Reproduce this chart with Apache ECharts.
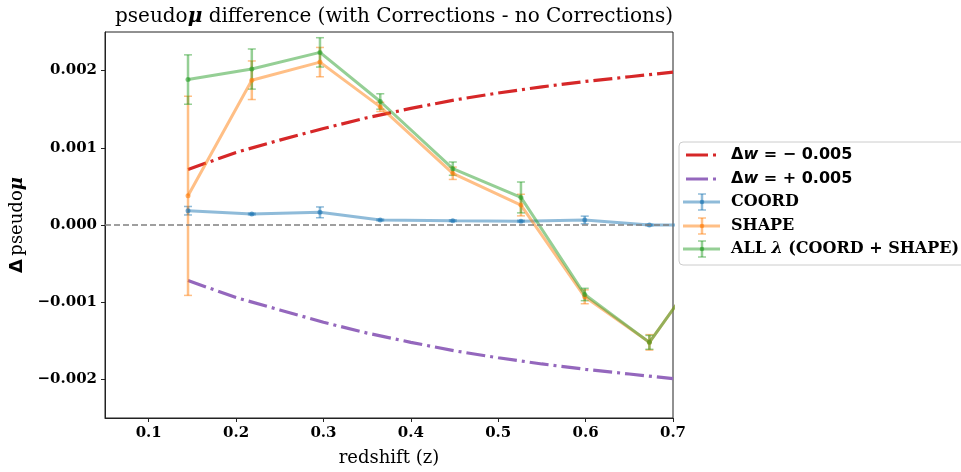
<!DOCTYPE html>
<html>
<head>
<meta charset="utf-8">
<script src="https://cdn.jsdelivr.net/npm/echarts@6/dist/echarts.min.js"></script>
<style>html,body{margin:0;padding:0;background:#fff;}#c{width:961px;height:472px;}</style>
</head>
<body>
<div id="c"></div>
<script>
// ---- data ----
const zBins = [0.145, 0.218, 0.296, 0.365, 0.448, 0.526, 0.599, 0.673, 0.75];
const coordVals = [0.000185, 0.000142, 0.000164, 0.000065, 0.000056, 0.00005, 0.000065, 0.0, 0.0];
const coordErr  = [0.000055, 0.00001, 0.00007, 0.00001, 0.00001, 0.00001, 0.00005, 0.00001, 0.00001];
const shapeVals = [0.000378, 0.001875, 0.00211, 0.00153, 0.00067, 0.000258, -0.00093, -0.00152, -0.0003];
const shapeErr  = [0.00129, 0.00025, 0.00019, 0.00006, 0.00008, 0.00014, 0.00009, 0.0001, 0.0001];
const allVals   = [0.001884, 0.00202, 0.002236, 0.0016, 0.00073, 0.000357, -0.0009, -0.00152, -0.0003];
const allErr    = [0.00032, 0.00026, 0.00019, 0.0001, 0.000086, 0.0002, 0.00008, 0.00009, 0.0001];
const zCurve    = [0.145, 0.2, 0.25, 0.3, 0.35, 0.4, 0.45, 0.5, 0.55, 0.6, 0.65, 0.7];
const wMinusVals = [0.00072, 0.00094, 0.00110, 0.00125, 0.00139, 0.00151, 0.00162, 0.00171, 0.00179, 0.00186, 0.00192, 0.00198];
const wPlusVals  = [-0.00072, -0.00094, -0.00110, -0.00126, -0.00140, -0.00152, -0.00163, -0.00172, -0.00180, -0.00187, -0.00193, -0.00199];
const xTicks = [0.1, 0.2, 0.3, 0.4, 0.5, 0.6, 0.7];
const yTicks = [-0.002, -0.001, 0.0, 0.001, 0.002];
const seriesNames = ['COORD', 'SHAPE', 'ALL λ (COORD + SHAPE)'];

const C = {blue:'#1f77b4', orange:'#ff7f0e', green:'#2ca02c', red:'#d62728', purple:'#9467bd'};
const SERIF = "'DejaVu Serif', serif";
const SANS = "'DejaVu Sans', sans-serif";

function pairs(xs, ys){ return xs.map((x,i)=>[x, ys[i]]); }
function errData(xs, ys, es){ return xs.map((x,i)=>[x, ys[i]-es[i], ys[i]+es[i]]); }

function errSeries(name, xs, ys, es, color){
  return {
    type:'custom', name: name, clip:true, z: 3,
    data: errData(xs, ys, es),
    renderItem: function(params, api){
      const x = api.value(0), lo = api.value(1), hi = api.value(2);
      const p1 = api.coord([x, hi]), p2 = api.coord([x, lo]);
      const cw = 4;
      const st = {stroke: color, lineWidth: 2.5, opacity: 0.5};
      const cst = {stroke: color, lineWidth: 1.5, opacity: 0.5};
      return {type:'group', children:[
        {type:'line', shape:{x1:p1[0], y1:p1[1], x2:p2[0], y2:p2[1]}, style: st},
        {type:'line', shape:{x1:p1[0]-cw, y1:p1[1], x2:p1[0]+cw, y2:p1[1]}, style: cst},
        {type:'line', shape:{x1:p2[0]-cw, y1:p2[1], x2:p2[0]+cw, y2:p2[1]}, style: cst}
      ]};
    }
  };
}
function lineSeries(name, xs, ys, color){
  return {
    type:'line', name:name, data: pairs(xs, ys), clip:true, z: 3,
    symbol:'circle', symbolSize:5, showSymbol:true,
    lineStyle:{color:color, width:3, opacity:0.5},
    itemStyle:{color:color, opacity:0.6},
    animation:false
  };
}

const chart = echarts.init(document.getElementById('c'), null, {renderer:'canvas'});

const dashDot = [19, 5, 3, 5];

const legendRows = [155, 179, 202, 226, 249];
const lgX = 731;
function lgLineIcon(y, color){
  return [
    {type:'line', shape:{x1:686, y1:y, x2:708, y2:y}, style:{stroke:color, lineWidth:3}},
    {type:'line', shape:{x1:713, y1:y, x2:716, y2:y}, style:{stroke:color, lineWidth:3}}
  ];
}
function lgErrIcon(y, color){
  return [
    {type:'line', shape:{x1:683, y1:y, x2:720, y2:y}, style:{stroke:color, lineWidth:3, opacity:0.5}},
    {type:'line', shape:{x1:702, y1:y-8, x2:702, y2:y+8}, style:{stroke:color, lineWidth:2.5, opacity:0.5}},
    {type:'line', shape:{x1:698, y1:y-8, x2:706, y2:y-8}, style:{stroke:color, lineWidth:1.5, opacity:0.5}},
    {type:'line', shape:{x1:698, y1:y+8, x2:706, y2:y+8}, style:{stroke:color, lineWidth:1.5, opacity:0.5}},
    {type:'circle', shape:{cx:702, cy:y, r:2.3}, style:{fill:color, opacity:0.6}}
  ];
}
const LF = 16;
const wRich = {
  s:{fontFamily:SANS, fontWeight:'bold', fontSize:LF, fill:'#000'},
  i:{fontFamily:SANS, fontWeight:'bold', fontStyle:'italic', fontSize:LF, fill:'#000'}
};
const sRich = {
  t:{fontFamily:SERIF, fontWeight:'bold', fontSize:LF, fill:'#000'},
  l:{fontFamily:SERIF, fontWeight:'bold', fontStyle:'italic', fontSize:LF, fill:'#000'}
};
const graphics = [
  {type:'rect', shape:{x:679, y:142, width:300, height:123, r:4}, style:{fill:'rgba(255,255,255,0.8)', stroke:'#cccccc', lineWidth:1}, z:10},
  ...lgLineIcon(legendRows[0], C.red),
  ...lgLineIcon(legendRows[1], C.purple),
  ...lgErrIcon(legendRows[2], C.blue),
  ...lgErrIcon(legendRows[3], C.orange),
  ...lgErrIcon(legendRows[4], C.green),
  {type:'text', x:lgX, y:legendRows[0], style:{text:'{s|Δ}{i|w}{s| = − 0.005}', rich:wRich, verticalAlign:'middle'}},
  {type:'text', x:lgX, y:legendRows[1], style:{text:'{s|Δ}{i|w}{s| = + 0.005}', rich:wRich, verticalAlign:'middle'}},
  {type:'text', x:lgX, y:legendRows[2], style:{text:'{t|' + seriesNames[0] + '}', rich:sRich, verticalAlign:'middle'}},
  {type:'text', x:lgX, y:legendRows[3], style:{text:'{t|' + seriesNames[1] + '}', rich:sRich, verticalAlign:'middle'}},
  {type:'text', x:lgX, y:legendRows[4], style:{text:'{t|ALL }{l|λ}{t| (COORD + SHAPE)}', rich:sRich, verticalAlign:'middle'}}
].map((g,i) => Object.assign({z: i === 0 ? 10 : 11}, g));

const option = {
  animation:false,
  backgroundColor:'#fff',
  title:{
    text:'{a|pseudo}{b|μ}{a| difference (with Corrections - no Corrections)}',
    left: 389, top: 2, textAlign:'center',
    textStyle:{
      fontWeight:'normal',
      rich:{
        a:{fontFamily:SERIF, fontSize:20, fontWeight:'normal', color:'#000'},
        b:{fontFamily:SERIF, fontSize:20, fontWeight:'bold', fontStyle:'italic', color:'#000'}
      }
    }
  },
  grid:{left:105, right:288, top:32, bottom:52, show:true, borderColor:'#222', borderWidth:1, backgroundColor:'transparent'},
  xAxis:{
    type:'value', min:0.05, max:0.7,
    name:'redshift (z)', nameLocation:'middle', nameGap:31,
    nameTextStyle:{fontFamily:SERIF, fontSize:18, color:'#000'},
    axisLine:{show:true, onZero:false, lineStyle:{color:'#222', width:1}},
    axisTick:{show:true, length:4, customValues:xTicks, lineStyle:{color:'#222'}},
    axisLabel:{customValues:xTicks, fontFamily:SERIF, fontWeight:'bold', fontSize:15, color:'#000', margin:8,
      formatter:(v)=>v.toFixed(1)},
    splitLine:{show:false}
  },
  yAxis:{
    type:'value', min:-0.0025, max:0.0025,
    name:'{d|Δ} {p|pseudo}{m|μ}', nameLocation:'middle', nameGap:76, nameRotate:90,
    nameTextStyle:{
      rich:{
        d:{fontFamily:SANS, fontWeight:'bold', fontSize:18, color:'#000'},
        p:{fontFamily:SERIF, fontSize:18, color:'#000'},
        m:{fontFamily:SERIF, fontWeight:'bold', fontStyle:'italic', fontSize:18, color:'#000'}
      }
    },
    axisLine:{show:true, onZero:false, lineStyle:{color:'#222', width:1}},
    axisTick:{show:true, length:4, customValues:yTicks, lineStyle:{color:'#222'}},
    axisLabel:{customValues:yTicks, fontFamily:SERIF, fontWeight:'bold', fontSize:15, color:'#000', margin:8,
      formatter:(v)=>{ const s = Math.abs(v).toFixed(3); return (v < -1e-9 ? '−' : '') + s; }},
    splitLine:{show:false}
  },
  graphic: graphics,
  series:[
    {type:'line', name:'zero', data:[], silent:true,
     markLine:{silent:true, symbol:'none', label:{show:false},
       lineStyle:{color:'#808080', type:[6,3], width:1.5}, data:[{yAxis:0}]}, z:1},
    {type:'line', name:'Δw = −0.005', data:pairs(zCurve, wMinusVals), showSymbol:false, symbol:'none', clip:true, z:2,
     lineStyle:{color:C.red, width:3.2, type:dashDot}},
    {type:'line', name:'Δw = +0.005', data:pairs(zCurve, wPlusVals), showSymbol:false, symbol:'none', clip:true, z:2,
     lineStyle:{color:C.purple, width:3.2, type:dashDot}},
    lineSeries(seriesNames[0], zBins, coordVals, C.blue),
    errSeries(seriesNames[0], zBins, coordVals, coordErr, C.blue),
    lineSeries(seriesNames[1], zBins, shapeVals, C.orange),
    errSeries(seriesNames[1], zBins, shapeVals, shapeErr, C.orange),
    lineSeries(seriesNames[2], zBins, allVals, C.green),
    errSeries(seriesNames[2], zBins, allVals, allErr, C.green)
  ]
};
chart.setOption(option);
</script>
</body>
</html>
